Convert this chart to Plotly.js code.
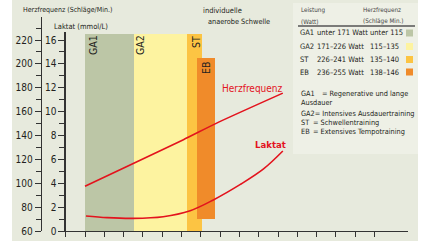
<!DOCTYPE html>
<html><head><meta charset="utf-8">
<script src="https://cdn.plot.ly/plotly-3.0.1.min.js"></script>
<style>html,body{margin:0;padding:0;background:#fff;}#chart{width:430px;height:241px;}</style>
</head><body><div id="chart"></div>
<script>
// ---- data ----
const zones = ['GA1', 'GA2', 'ST', 'EB'];
const zoneStartW = [120, 171, 226, 236];
const zoneEndW = [171, 226, 241, 255];
const zoneBottomL = [0, 0, 0, 1];
const zoneTopL = [16.5, 16.5, 16.5, 14.5];
const zoneColors = ['#bcc6a6', '#fdf3a0', '#fcc443', '#f08b2a'];

const hrWatt = [120, 170, 222, 258, 325];
const hrBpm = [97.5, 116.5, 136.5, 151, 175.5];

const lacWatt = [121, 143, 170, 201, 229, 253, 281, 305, 325];
const lacMmol = [1.26, 1.12, 1.06, 1.2, 1.7, 2.6, 3.9, 5.2, 6.7];

const xTickVals = [100, 120, 140, 160, 180, 200, 220, 240, 260, 280, 300, 320, 340, 360, 380, 400, 420];
const xTickText = ['0', '120', '140', '160', '180', '200', '220', '240', '260', '280', '300', '320', '340', '360', '380', '400', '420'];

const legendWatt = ['unter 171 Watt', '171–226 Watt', '226–241 Watt', '236–255 Watt'];
const legendHr = ['unter 115', '115–135', '135–140', '138–146'];
const defLabels = ['GA1', 'Ausdauer', 'GA2= Intensives Ausdauertraining', 'ST', 'EB'];
const defTexts = ['= Regenerative und lange', '', '', '= Schwellentraining', '= Extensives Tempotraining'];

// ---- helpers (pixel -> paper) ----
const W = 430, H = 241;
const px = x => x / W;
const py = y => 1 - y / H;
const FONT = 'Liberation Sans Narrow, DejaVu Sans Condensed, Liberation Sans, sans-serif';
const TXT = '#231f20';
const RED = '#e3131d';

const barTrace = {
  type: 'bar',
  x: zoneStartW.map((s, i) => (s + zoneEndW[i]) / 2),
  width: zoneStartW.map((s, i) => zoneEndW[i] - s),
  base: zoneBottomL,
  y: zoneTopL.map((t, i) => t - zoneBottomL[i]),
  marker: { color: zoneColors, line: { width: 0 } },
  xaxis: 'x', yaxis: 'y',
  hoverinfo: 'skip', showlegend: false
};
const lacTrace = {
  type: 'scatter', mode: 'lines',
  x: lacWatt, y: lacMmol,
  line: { color: RED, width: 1.6, shape: 'spline', smoothing: 1 },
  xaxis: 'x', yaxis: 'y', showlegend: false
};
const hrTrace = {
  type: 'scatter', mode: 'lines',
  x: hrWatt, y: hrBpm,
  line: { color: RED, width: 1.6, shape: 'spline', smoothing: 0.6 },
  xaxis: 'x', yaxis: 'y2', showlegend: false
};

const pxPerW = 0.965;
const xLeft = 65.7, xRight = 408;
const pxPerL = 11.9375;
const yBottom = 231, yLacTop = 32, yHrTop = 17;

const annotations = [];
function txt(text, x, y, size, opts) {
  annotations.push(Object.assign({
    text: text, xref: 'paper', yref: 'paper', x: px(x), y: py(y),
    xanchor: 'left', yanchor: 'middle', showarrow: false,
    font: { family: FONT, size: size, color: TXT }
  }, opts || {}));
}
// axis titles
txt('Herzfrequenz (Schläge/Min.)', 21, 10, 7);
txt('Laktat (mmol/L)', 52, 26, 7.5);
// threshold note
txt('individuelle', 201, 11, 7.5);
txt('anaerobe Schwelle', 206, 21, 7.3);
annotations.push({
  text: ' ', xref: 'paper', yref: 'paper', x: px(204), y: py(33),
  ax: 0, ay: -10, showarrow: true, arrowhead: 2, arrowsize: 1, arrowwidth: 1.2, arrowcolor: TXT
});
// zone labels in bars
const zoneLabelPos = [[93, 45], [140, 45], [196, 42], [206, 68]];
zones.forEach((z, i) => {
  txt(z, zoneLabelPos[i][0], zoneLabelPos[i][1], 10.5, { textangle: -90, xanchor: 'center' });
});
// curve labels
txt('Herzfrequenz', 253, 88, 10, { xanchor: 'center', font: { family: FONT, size: 10, color: RED } });
txt('Laktat', 270, 144, 9.5, { xanchor: 'center', font: { family: FONT, size: 9.5, color: RED, weight: 'bold' } });
// legend table
const GREY = '#444';
txt('Leistung', 299, 10, 6.3, { font: { family: FONT, size: 6.3, color: GREY } });
txt('(Watt)', 299, 21, 6.3, { font: { family: FONT, size: 6.3, color: GREY } });
txt('Herzfrequenz', 361, 10, 6.3, { font: { family: FONT, size: 6.3, color: GREY } });
txt('(Schläge Min.)', 361, 21, 6.3, { font: { family: FONT, size: 6.3, color: GREY } });
const rowY = [33, 46.5, 59.5, 72];
zones.forEach((z, i) => {
  txt(z, 298, rowY[i], 7.5);
  txt(legendWatt[i], 315, rowY[i], 7.5);
  txt(legendHr[i], 368, rowY[i], 7.5);
});
const defY = [94, 102, 113, 122, 131];
defLabels.forEach((d, i) => {
  txt(d, 299, defY[i], 7.3);
  if (defTexts[i]) txt(defTexts[i], i === 0 ? 320 : 311, defY[i], 7.3);
});

const shapes = [
  { type: 'rect', xref: 'paper', yref: 'paper', x0: 0, x1: px(12), y0: 0, y1: 1, fillcolor: '#ffffff', line: { width: 0 }, layer: 'below' },
  { type: 'rect', xref: 'paper', yref: 'paper', x0: px(418), x1: 1, y0: 0, y1: 1, fillcolor: '#ffffff', line: { width: 0 }, layer: 'below' },
  { type: 'rect', xref: 'paper', yref: 'paper', x0: px(293), x1: px(418), y0: py(154), y1: py(3), fillcolor: '#eef0e6', line: { width: 0 }, layer: 'below' },
  { type: 'line', xref: 'paper', yref: 'paper', x0: px(298), x1: px(415), y0: py(26), y1: py(26), line: { color: '#555', width: 1.5 } }
];
zones.forEach((z, i) => {
  shapes.push({ type: 'rect', xref: 'paper', yref: 'paper', x0: px(406), x1: px(413), y0: py(rowY[i] + 3.5), y1: py(rowY[i] - 3.5), fillcolor: zoneColors[i], line: { width: 0 } });
});

const tickFont = { family: FONT, size: 10, color: TXT };
const layout = {
  width: W, height: H,
  margin: { l: 0, r: 0, t: 0, b: 0 },
  paper_bgcolor: '#e7eadd', plot_bgcolor: 'rgba(0,0,0,0)',
  barmode: 'overlay', bargap: 0,
  showlegend: false,
  xaxis: {
    domain: [px(xLeft), px(xRight)],
    range: [100, 100 + (xRight - xLeft) / pxPerW],
    tickmode: 'array', tickvals: xTickVals, ticktext: xTickText,
    ticks: 'outside', ticklen: 5, tickwidth: 1, tickcolor: '#333',
    ticklabelstandoff: 5,
    showline: true, linecolor: '#333', linewidth: 1.3,
    showgrid: false, zeroline: false, tickfont: tickFont,
    anchor: 'y', automargin: false, fixedrange: true
  },
  yaxis: {
    domain: [py(yBottom), py(yLacTop)],
    range: [0, (yBottom - yLacTop) / pxPerL],
    tickmode: 'linear', tick0: 0, dtick: 2,
    ticks: 'outside', ticklen: 6, tickwidth: 1, tickcolor: '#333',
    minor: { dtick: 1, tick0: 0, ticks: 'outside', ticklen: 5, tickwidth: 1, tickcolor: '#333' },
    showline: true, linecolor: '#333', linewidth: 1.3,
    showgrid: false, zeroline: false, tickfont: tickFont,
    anchor: 'x', automargin: false, fixedrange: true
  },
  yaxis2: {
    domain: [py(yBottom), py(yHrTop)],
    range: [60, 60 + (yBottom - yHrTop) / pxPerL * 10],
    anchor: 'free', position: px(40.7), side: 'left',
    tickmode: 'linear', tick0: 60, dtick: 20,
    ticks: 'outside', ticklen: 6, tickwidth: 1, tickcolor: '#333',
    minor: { dtick: 10, tick0: 60, ticks: 'outside', ticklen: 5, tickwidth: 1, tickcolor: '#333' },
    showline: true, linecolor: '#333', linewidth: 1.3,
    showgrid: false, zeroline: false, tickfont: tickFont,
    automargin: false, fixedrange: true
  },
  shapes: shapes,
  annotations: annotations
};

Plotly.newPlot('chart', [barTrace, lacTrace, hrTrace], layout, { staticPlot: true, displayModeBar: false });
</script>
</body></html>
